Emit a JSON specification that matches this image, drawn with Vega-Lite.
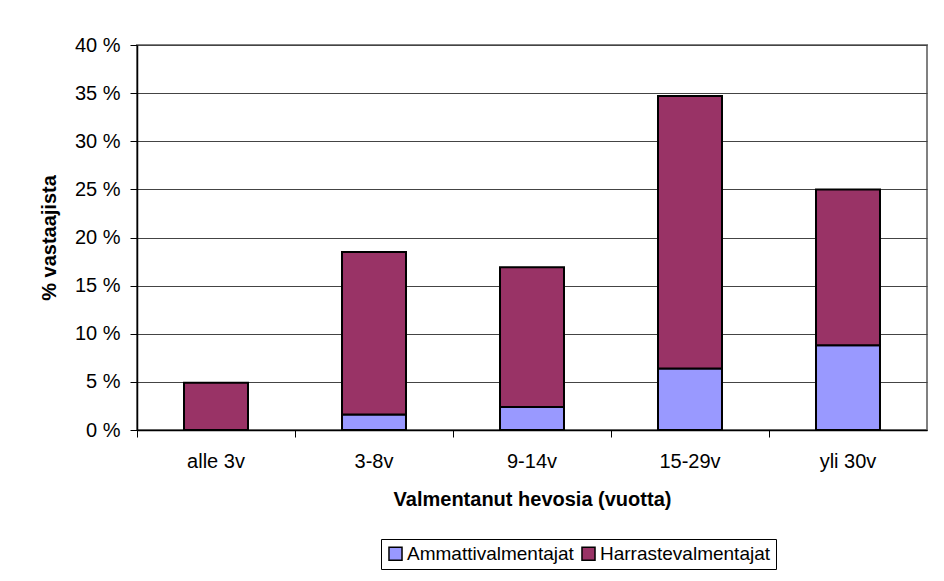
{
  "$schema": "https://vega.github.io/schema/vega-lite/v6.json",
  "width": 790,
  "height": 385,
  "autosize": {"type": "none"},
  "padding": {"left": 137, "top": 45, "right": 17, "bottom": 151},
  "background": "white",
  "config": {
    "font": "Liberation Sans",
    "view": {"stroke": "#808080", "strokeWidth": 2}
  },
  "data": {
    "values": [
      {"ika": "alle 3v", "ryhma": "Ammattivalmentajat", "ord": 1, "arvo": 0},
      {"ika": "alle 3v", "ryhma": "Harrastevalmentajat", "ord": 2, "arvo": 4.9},
      {"ika": "3-8v", "ryhma": "Ammattivalmentajat", "ord": 1, "arvo": 1.6},
      {"ika": "3-8v", "ryhma": "Harrastevalmentajat", "ord": 2, "arvo": 16.9},
      {"ika": "9-14v", "ryhma": "Ammattivalmentajat", "ord": 1, "arvo": 2.4},
      {"ika": "9-14v", "ryhma": "Harrastevalmentajat", "ord": 2, "arvo": 14.5},
      {"ika": "15-29v", "ryhma": "Ammattivalmentajat", "ord": 1, "arvo": 6.4},
      {"ika": "15-29v", "ryhma": "Harrastevalmentajat", "ord": 2, "arvo": 28.3},
      {"ika": "yli 30v", "ryhma": "Ammattivalmentajat", "ord": 1, "arvo": 8.8},
      {"ika": "yli 30v", "ryhma": "Harrastevalmentajat", "ord": 2, "arvo": 16.2}
    ]
  },
  "layer": [
    {
      "mark": {"type": "bar", "width": {"band": 0.405}, "stroke": "black", "strokeWidth": 2},
      "encoding": {
        "x": {
          "field": "ika",
          "type": "nominal",
          "sort": ["alle 3v", "3-8v", "9-14v", "15-29v", "yli 30v"],
          "scale": {"paddingInner": 0, "paddingOuter": 0},
          "axis": {
            "orient": "bottom",
            "title": "Valmentanut hevosia (vuotta)",
            "labelAngle": 0,
            "ticks": false,
            "labelPadding": 21,
            "labelFontSize": 20,
            "labelColor": "black",
            "titleFontSize": 20,
            "titleFontWeight": "bold",
            "titleColor": "black",
            "titlePadding": 18,
            "domainColor": "black",
            "domainWidth": 1.5
          }
        },
        "y": {
          "field": "arvo",
          "type": "quantitative",
          "stack": "zero",
          "scale": {"domain": [0, 40]},
          "axis": {
            "title": "% vastaajista",
            "values": [0, 5, 10, 15, 20, 25, 30, 35, 40],
            "labelExpr": "datum.value + ' %'",
            "labelFontSize": 20,
            "labelColor": "black",
            "labelPadding": 10,
            "tickSize": 7,
            "tickColor": "black",
            "domainColor": "black",
            "domainWidth": 1.5,
            "grid": true,
            "gridColor": "#444444",
            "titleFontSize": 20,
            "titleFontWeight": "bold",
            "titleColor": "black",
            "titlePadding": 15
          }
        },
        "color": {
          "field": "ryhma",
          "type": "nominal",
          "scale": {
            "domain": ["Ammattivalmentajat", "Harrastevalmentajat"],
            "range": ["#9999FF", "#993366"]
          },
          "legend": {
            "title": null,
            "orient": "none",
            "legendX": 244,
            "legendY": 494,
            "direction": "horizontal",
            "strokeColor": "black",
            "fillColor": "white",
            "padding": 5,
            "labelFontSize": 19,
            "labelColor": "black",
            "labelLimit": 400,
            "labelOffset": 2,
            "columnPadding": 4,
            "symbolType": "square",
            "symbolSize": 170,
            "symbolStrokeColor": "black",
            "symbolStrokeWidth": 1.5,
            "symbolOpacity": 1
          }
        },
        "order": {"field": "ord", "type": "quantitative"}
      }
    },
    {
      "mark": {"type": "rule", "opacity": 0},
      "encoding": {
        "x": {
          "field": "ika",
          "type": "nominal",
          "sort": ["alle 3v", "3-8v", "9-14v", "15-29v", "yli 30v"],
          "axis": {
            "orient": "bottom",
            "title": null,
            "labels": false,
            "domain": false,
            "grid": false,
            "ticks": true,
            "tickSize": 7,
            "tickColor": "black",
            "bandPosition": 0
          }
        }
      }
    }
  ],
  "resolve": {"axis": {"x": "independent"}}
}
